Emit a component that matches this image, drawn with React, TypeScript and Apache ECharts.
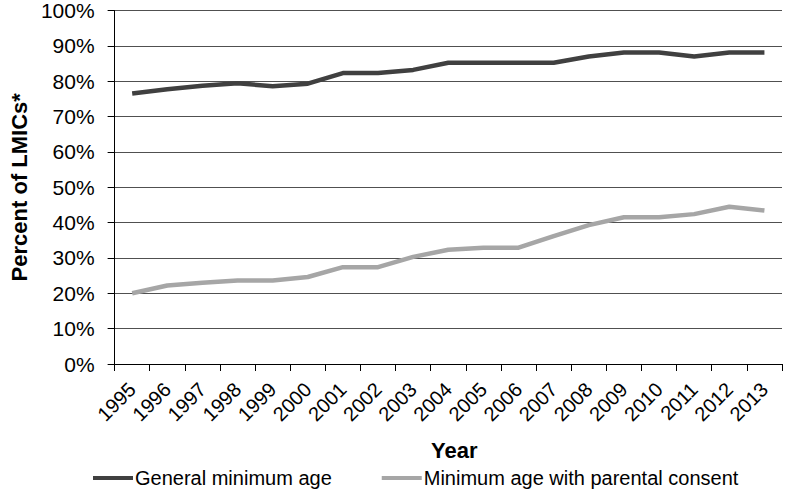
import React, { useEffect, useRef } from "react";
import * as echarts from "echarts";

const years = ["1995","1996","1997","1998","1999","2000","2001","2002","2003","2004","2005","2006","2007","2008","2009","2010","2011","2012","2013"];
const generalMinAge = [76.5, 77.7, 78.7, 79.4, 78.6, 79.3, 82.3, 82.3, 83.2, 85.2, 85.2, 85.2, 85.2, 87.0, 88.1, 88.1, 87.0, 88.1, 88.1];
const parentalConsent = [20.0, 22.2, 23.0, 23.6, 23.6, 24.6, 27.4, 27.4, 30.3, 32.3, 32.9, 32.9, 36.2, 39.3, 41.5, 41.5, 42.4, 44.5, 43.4];
const yTicks = [0, 10, 20, 30, 40, 50, 60, 70, 80, 90, 100];

const FONT = "'Liberation Sans', Arial, sans-serif";

export default function App() {
  const ref = useRef<HTMLDivElement>(null);
  useEffect(() => {
    if (!ref.current) return;
    const chart = echarts.init(ref.current, null, { renderer: "svg" });
    chart.setOption({
      animation: false,
      backgroundColor: "#fff",
      textStyle: { fontFamily: FONT },
      grid: { left: 105, right: 18, top: 10, bottom: 127 },
      legend: {
        top: 466,
        left: 93,
        itemGap: 50,
        itemWidth: 40,
        itemHeight: 4,
        icon: "rect",
        padding: 0,
        textStyle: { fontSize: 20, lineHeight: 24, color: "#000", fontFamily: FONT, padding: [0, 0, 0, -3] },
        data: ["General minimum age", "Minimum age with parental consent"],
      },
      xAxis: {
        type: "category",
        data: years,
        boundaryGap: true,
        name: "Year",
        nameLocation: "middle",
        nameGap: 75,
        nameTextStyle: { fontSize: 22, fontWeight: "bold", color: "#000", fontFamily: FONT, padding: [0, 0, 0, 12] },
        axisLine: { lineStyle: { color: "#000", width: 1 } },
        axisTick: { show: true, alignWithLabel: false, length: 7, lineStyle: { color: "#000" } },
        axisLabel: { rotate: 45, fontSize: 20, color: "#000", interval: 0, margin: 22, fontFamily: FONT },
      },
      yAxis: {
        type: "value",
        min: 0,
        max: 100,
        interval: 10,
        name: "Percent of LMICs*",
        nameLocation: "middle",
        nameGap: 72,
        nameTextStyle: { fontSize: 22, fontWeight: "bold", color: "#000", fontFamily: FONT },
        axisLine: { show: true, lineStyle: { color: "#000", width: 1 } },
        axisTick: { show: true, length: 7, lineStyle: { color: "#000" } },
        axisLabel: {
          fontSize: 21,
          color: "#000",
          margin: 20,
          fontFamily: FONT,
          formatter: (v: number) => (yTicks.includes(v) ? v + "%" : ""),
        },
        splitLine: { show: true, lineStyle: { color: "#505050", width: 1 } },
      },
      series: [
        {
          name: "General minimum age",
          type: "line",
          data: generalMinAge,
          showSymbol: false,
          symbol: "none",
          lineStyle: { color: "#404040", width: 4.5 },
          itemStyle: { color: "#404040" },
        },
        {
          name: "Minimum age with parental consent",
          type: "line",
          data: parentalConsent,
          showSymbol: false,
          symbol: "none",
          lineStyle: { color: "#a6a6a6", width: 4.5 },
          itemStyle: { color: "#a6a6a6" },
        },
      ],
    });
    return () => chart.dispose();
  }, []);
  return <div ref={ref} style={{ position: "absolute", left: 0, top: 0, width: 800, height: 491 }} />;
}
